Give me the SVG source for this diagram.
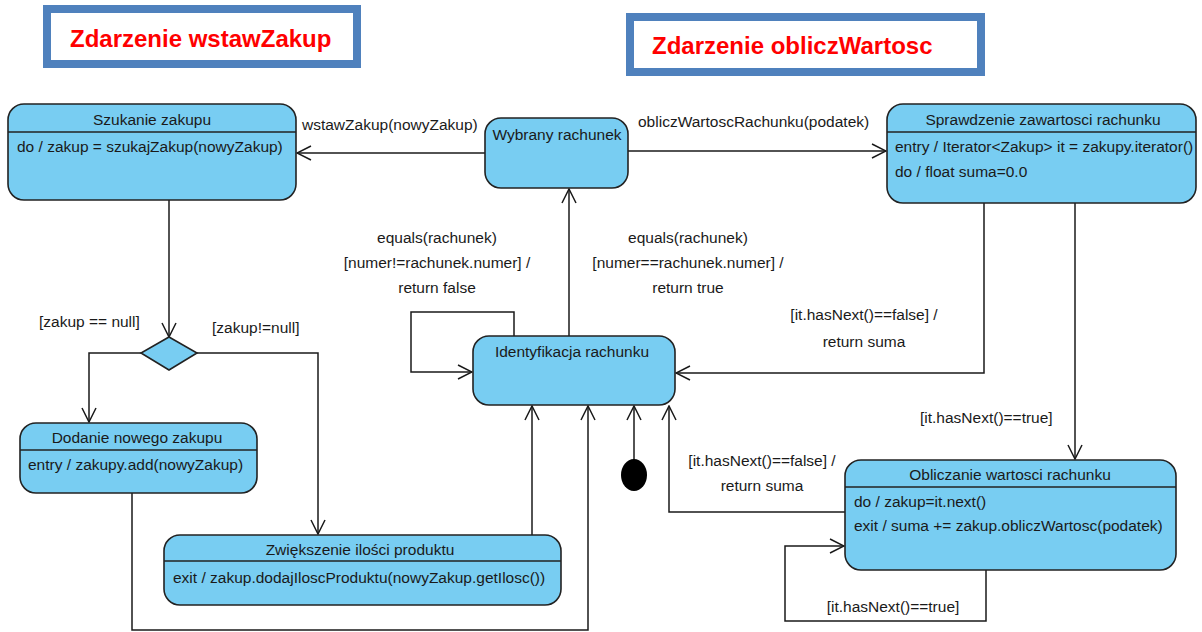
<svg xmlns="http://www.w3.org/2000/svg" width="1202" height="632" viewBox="0 0 1202 632">
  <defs>
    <marker id="open" viewBox="0 0 16 16" refX="15" refY="8" markerWidth="16" markerHeight="16" markerUnits="userSpaceOnUse" orient="auto">
      <path d="M1,1 L15,8 L1,15" fill="none" stroke="#1a1a1a" stroke-width="1.5"/>
    </marker>
    <style>
      .st { fill: #78cdf2; stroke: #222; stroke-width: 1.6; }
      .sep { stroke: #222; stroke-width: 1.4; }
      .t { font-family: "Liberation Sans", Arial, sans-serif; font-size: 15.5px; fill: #1a1a1a; }
      .c { text-anchor: middle; }
      .edge { fill: none; stroke: #1a1a1a; stroke-width: 1.5; }
      .arr { marker-end: url(#open); }
      .title { font-family: "Liberation Sans", Arial, sans-serif; font-size: 24px; font-weight: bold; fill: #ff0000; }
      .frame { fill: #ffffff; stroke: #4f81bd; stroke-width: 8; }
    </style>
  </defs>

  <rect width="1202" height="632" fill="#ffffff"/>

  <!-- event headings -->
  <g id="heading-wstaw">
    <rect class="frame" x="47" y="9" width="310" height="55"/>
    <text class="title" x="70" y="47">Zdarzenie wstawZakup</text>
  </g>
  <g id="heading-oblicz">
    <rect class="frame" x="630" y="17" width="351" height="55"/>
    <text class="title" x="652" y="54">Zdarzenie obliczWartosc</text>
  </g>

  <!-- connectors -->
  <g id="connectors">
    <!-- Wybrany -> Szukanie -->
    <line class="edge arr" x1="485" y1="153" x2="297" y2="153"/>
    <text class="t" x="302" y="130">wstawZakup(nowyZakup)</text>
    <!-- Wybrany -> Sprawdzenie -->
    <line class="edge arr" x1="628" y1="151" x2="886" y2="151"/>
    <text class="t" x="638" y="127">obliczWartoscRachunku(podatek)</text>
    <!-- Szukanie -> decision -->
    <line class="edge arr" x1="169" y1="200" x2="169" y2="337"/>
    <!-- decision branches -->
    <polyline class="edge arr" points="141,353 89,353 89,422"/>
    <text class="t" x="39" y="327">[zakup == null]</text>
    <polyline class="edge arr" points="197,353 318,353 318,534"/>
    <text class="t" x="212" y="333">[zakup!=null]</text>
    <!-- Dodanie -> Identyfikacja -->
    <polyline class="edge arr" points="132,493 132,630 588,630 588,406"/>
    <!-- Zwiekszenie -> Identyfikacja -->
    <line class="edge arr" x1="532" y1="535" x2="532" y2="406"/>
    <!-- initial -> Identyfikacja -->
    <line class="edge arr" x1="634" y1="460" x2="634" y2="406"/>
    <!-- Identyfikacja -> Wybrany -->
    <line class="edge arr" x1="569" y1="336" x2="569" y2="189"/>
    <text class="t c" x="688" y="243">equals(rachunek)</text>
    <text class="t c" x="688" y="268">[numer==rachunek.numer] /</text>
    <text class="t c" x="688" y="293">return true</text>
    <!-- Identyfikacja self loop -->
    <polyline class="edge arr" points="514,336 514,312 411,312 411,372 472,372"/>
    <text class="t c" x="437" y="243">equals(rachunek)</text>
    <text class="t c" x="437" y="268">[numer!=rachunek.numer] /</text>
    <text class="t c" x="437" y="293">return false</text>
    <!-- Sprawdzenie -> Identyfikacja -->
    <polyline class="edge arr" points="984,203 984,373 676,373"/>
    <text class="t c" x="864" y="320">[it.hasNext()==false] /</text>
    <text class="t c" x="864" y="347">return suma</text>
    <!-- Sprawdzenie -> Obliczanie -->
    <line class="edge arr" x1="1075" y1="203" x2="1075" y2="459"/>
    <text class="t" x="920" y="423">[it.hasNext()==true]</text>
    <!-- Obliczanie -> Identyfikacja -->
    <polyline class="edge arr" points="845,512 669,512 669,406"/>
    <text class="t c" x="762" y="466">[it.hasNext()==false] /</text>
    <text class="t c" x="762" y="491">return suma</text>
    <!-- Obliczanie self loop -->
    <polyline class="edge arr" points="986,570 986,621 785,621 785,546 844,546"/>
    <text class="t c" x="893" y="612">[it.hasNext()==true]</text>
  </g>

  <!-- states -->
  <g id="szukanie-zakupu">
    <rect class="st" x="8" y="104" width="288" height="96" rx="16"/>
    <line class="sep" x1="8" y1="132" x2="296" y2="132"/>
    <text class="t c" x="152" y="125">Szukanie zakupu</text>
    <text class="t" x="17" y="152">do / zakup = szukajZakup(nowyZakup)</text>
  </g>

  <g id="wybrany-rachunek">
    <rect class="st" x="485" y="118" width="143" height="70" rx="16"/>
    <text class="t c" x="557" y="140">Wybrany rachunek</text>
  </g>

  <g id="sprawdzenie-zawartosci">
    <rect class="st" x="887" y="104" width="309" height="99" rx="16"/>
    <line class="sep" x1="887" y1="132" x2="1196" y2="132"/>
    <text class="t c" x="1043" y="125">Sprawdzenie zawartosci rachunku</text>
    <text class="t" x="895" y="152">entry / Iterator&lt;Zakup&gt; it = zakupy.iterator()</text>
    <text class="t" x="895" y="177">do / float suma=0.0</text>
  </g>

  <g id="decyzja">
    <polygon class="st" points="169,337 197,353 169,370 141,353"/>
  </g>

  <g id="identyfikacja-rachunku">
    <rect class="st" x="473" y="336" width="202" height="69" rx="16"/>
    <text class="t c" x="572" y="357">Identyfikacja rachunku</text>
  </g>

  <g id="dodanie-zakupu">
    <rect class="st" x="20" y="423" width="237" height="70" rx="16"/>
    <line class="sep" x1="20" y1="450" x2="257" y2="450"/>
    <text class="t c" x="137" y="443">Dodanie nowego zakupu</text>
    <text class="t" x="28" y="470">entry / zakupy.add(nowyZakup)</text>
  </g>

  <g id="zwiekszenie-ilosci">
    <rect class="st" x="164" y="535" width="397" height="70" rx="16"/>
    <line class="sep" x1="164" y1="561" x2="561" y2="561"/>
    <text class="t c" x="360" y="555">Zwiększenie ilości produktu</text>
    <text class="t" x="173" y="583">exit / zakup.dodajIloscProduktu(nowyZakup.getIlosc())</text>
  </g>

  <g id="obliczanie-wartosci">
    <rect class="st" x="845" y="460" width="331" height="110" rx="16"/>
    <line class="sep" x1="845" y1="487" x2="1176" y2="487"/>
    <text class="t c" x="1010" y="480">Obliczanie wartosci rachunku</text>
    <text class="t" x="854" y="507">do / zakup=it.next()</text>
    <text class="t" x="854" y="531">exit / suma += zakup.obliczWartosc(podatek)</text>
  </g>

  <g id="start">
    <ellipse cx="634" cy="475" rx="13" ry="16" fill="#000"/>
  </g>
</svg>
